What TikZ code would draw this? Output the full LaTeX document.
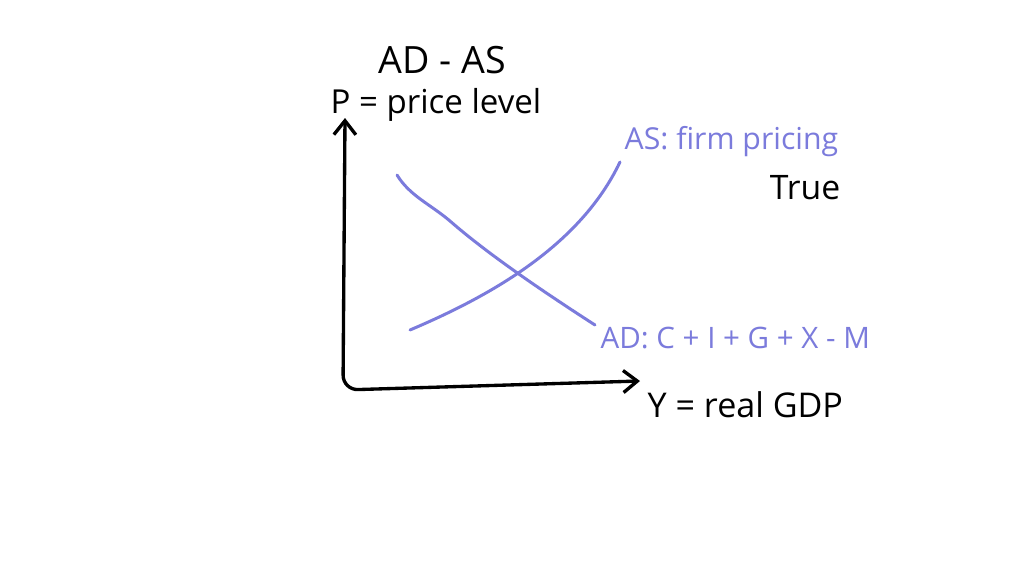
\documentclass[tikz,border=0pt]{standalone}
\usepackage{fontspec}
\setmainfont{Open Sans}
\usetikzlibrary{arrows.meta}
\definecolor{curvecol}{HTML}{7B7BDC}
\tikzstyle{curve} = [curvecol, line width=0.85pt, line cap=round]
\tikzstyle{axis}  = [{Straight Barb[length=1.4mm,width=2.2mm]}-{Straight Barb[length=1.4mm,width=2.2mm]}, line width=0.95pt, line cap=round]
\tikzstyle{ink}   = [inner sep=0pt, anchor=west]

\begin{document}
\begin{tikzpicture}
  \useasboundingbox[fill=white] (0,0) rectangle (10.24,5.76);
  \node at (4.42,5.16) (title) [inner sep=0pt] {\fontsize{10.7}{10.7}\selectfont AD - AS};
  \node at (3.30,4.71) (plabel) [ink] {\fontsize{9.4}{9.4}\selectfont P = price level};
  \node at (6.24,4.34) (aslabel) [ink,text=curvecol] {\fontsize{8.6}{8.6}\selectfont AS: firm pricing};
  \node at (8.05,3.88) (true) [inner sep=0pt] {\fontsize{9.6}{9.6}\selectfont True};
  \node at (6.00,2.38) (adlabel) [ink,text=curvecol] {\fontsize{8.4}{8.4}\selectfont AD: C + I + G + X - M};
  \node at (6.47,1.71) (ylabel) [ink] {\fontsize{9.7}{9.7}\selectfont Y = real GDP};
  % axes
  \coordinate (ytop) at (3.45,4.58);
  \coordinate (orig) at (3.43,1.86);
  \coordinate (xend) at (6.40,1.95);
  \draw[axis, rounded corners=1.5mm] (ytop) -- (orig) -- (xend);
  % AD and AS
  \draw[curve] (3.97,4.01) .. controls (4.10,3.80) and (4.30,3.72) .. (4.50,3.55)
                .. controls (4.90,3.20) and (5.50,2.80) .. (5.95,2.51);
  \draw[curve] (4.10,2.46) .. controls (4.90,2.80) and (5.80,3.30) .. (6.20,4.14);
\end{tikzpicture}
\end{document}
